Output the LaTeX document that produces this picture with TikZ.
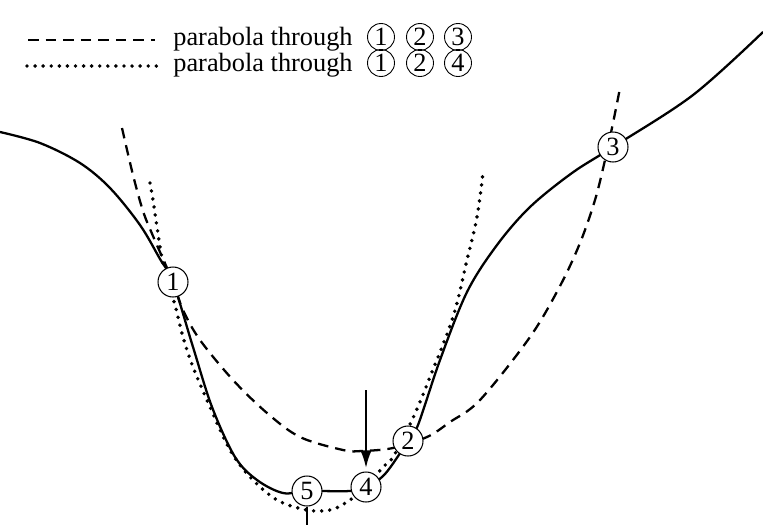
\documentclass[tikz,border=0pt]{standalone}
\usepackage{fontspec}
\setmainfont{Liberation Serif}
\usetikzlibrary{arrows.meta}
\tikzset{
  ptnode/.style={draw,circle,fill=white,line width=0.6pt,minimum size=0.6cm,
                 inner sep=0pt,font=\fontsize{15}{18}\selectfont},
  keynode/.style={draw,circle,line width=0.5pt,minimum size=0.54cm,
                  inner sep=0pt,font=\fontsize{15}{18}\selectfont},
  solidcurve/.style={line width=1.3pt},
  dashcurve/.style={line width=1.3pt,dash pattern=on 6pt off 4pt},
  dotcurve/.style={line width=2.2pt,line cap=round,dash pattern=on 0pt off 4.6pt},
}

\begin{document}
\begin{tikzpicture}[x=0.02cm,y=-0.02cm]
  \useasboundingbox (0,0) rectangle (763,525);
  %% Legend
  \draw[dashcurve] (28,40) -- (155,40);
  \node[anchor=base west,font=\fontsize{15}{18}\selectfont,inner sep=0pt]
        (key1) at (173,45) {parabola through};
  \node[keynode] (k11) at (381,37) {1};
  \node[keynode] (k12) at (420,37) {2};
  \node[keynode] (k13) at (458,37) {3};
  \draw[dotcurve] (27,66) -- (157,66);
  \node[anchor=base west,font=\fontsize{15}{18}\selectfont,inner sep=0pt]
        (key2) at (173,71) {parabola through};
  \node[keynode] (k21) at (381,63) {1};
  \node[keynode] (k22) at (420,63) {2};
  \node[keynode] (k23) at (458,63) {4};
  %% Function
  \draw[solidcurve] plot[smooth,tension=0.55] coordinates {
    (0,132) (40,143) (80,163) (110,188) (140,225) (160,259) (173,282)
    (193,347) (212,407) (235,457) (257,480) (283,493) (307,491) (350,491)
    (366,487) (385,474) (408,441) (418,425) (440,360) (467,292) (497,245)
    (530,207) (572,173) (613,147) (693,95) (763,32)};
  %% Parabola through 1 2 3
  \draw[dashcurve] plot[smooth,tension=0.55] coordinates {
    (122,128) (133,175) (143,211) (153,236) (173,282) (183,310) (200,340)
    (233,380) (267,413) (300,437) (343,450) (362,451) (393,448) (427,437)
    (450,422) (480,400) (530,337) (560,286) (580,243) (595,200) (605,160)
    (613,123) (620,88)};
  %% Parabola through 1 2 4
  \draw[dotcurve] plot[smooth,tension=0.55] coordinates {
    (150,183) (153,200) (157,227) (163,263) (175,305) (183,337) (193,367)
    (210,407) (230,450) (250,477) (277,500) (307,510) (330,510) (347,502)
    (366,487) (383,467) (393,457) (413,418) (430,377) (453,317) (467,260)
    (477,217) (483,173)};
  %% Points
  \node[ptnode] (n1) at (173,282) {1};
  \node[ptnode] (n2) at (408,441) {2};
  \node[ptnode] (n3) at (613,147) {3};
  \node[ptnode] (n4) at (366,487) {4};
  \node[ptnode] (n5) at (307,491) {5};
  %% Arrow to the new point, tick under 5
  \coordinate (arrowtop) at (366,390);
  \coordinate (tickend) at (307,525);
  \draw[line width=1.2pt,-{Latex[length=10pt,width=6.5pt]},shorten >=2pt]
    (arrowtop) -- (n4);
  \draw[line width=0.8pt] (n5) -- (tickend);
\end{tikzpicture}
\end{document}
